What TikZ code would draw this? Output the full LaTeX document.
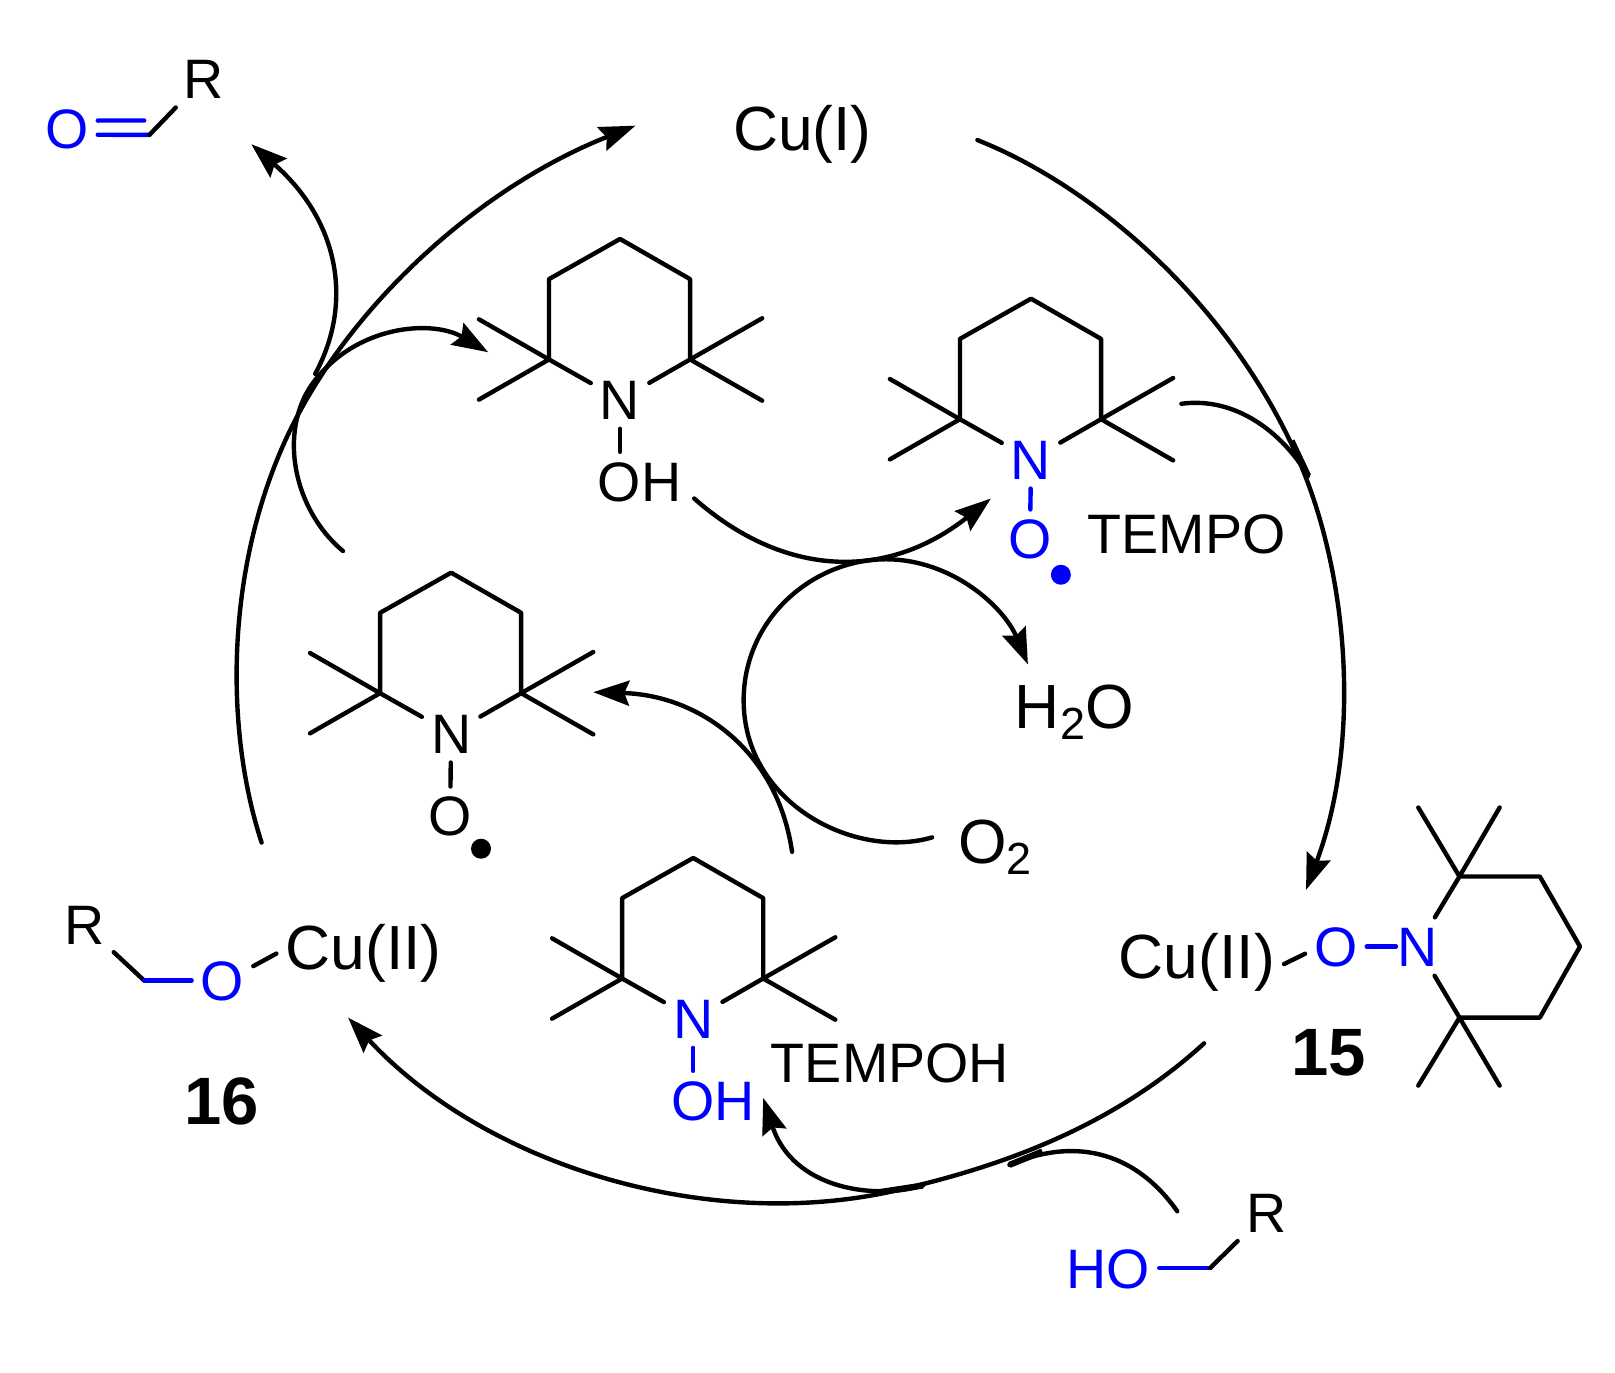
\documentclass[tikz,border=0pt]{standalone}
\usepackage{fontspec}
\setmainfont{Liberation Sans}
\usetikzlibrary{arrows.meta}
\definecolor{chemblue}{RGB}{0,0,255}
\tikzset{
  atom/.style={inner sep=0pt,outer sep=4.6pt,anchor=center,text height=20pt,text depth=0pt,font=\fontsize{27.8}{30}\selectfont},
  bigatom/.style={atom,text height=22pt,font=\fontsize{31.2}{33}\selectfont},
  cmpd/.style={atom,text height=24pt,font=\fontsize{33.5}{35}\selectfont\bfseries},
  bond/.style={line width=2.2pt,line cap=round,line join=round,draw=black},
  bluebond/.style={bond,draw=chemblue},
  curve/.style={line width=2.2pt,line cap=round,draw=black},
  tail/.style={line width=3.1pt,line cap=butt,draw=black},
  rxn/.style={curve,-{Stealth[length=18pt,width=12.5pt,inset=2.5pt]}},
  radical/.style={circle,inner sep=0pt,minimum size=10pt,fill=#1},
}
\newcommand{\tmpring}[4]{%
  \begin{scope}[shift={(#2,#3)}]
    \coordinate (#1a) at (0,0);
    \coordinate (#1b) at (68,39);
    \coordinate (#1c) at (68,117);
    \coordinate (#1f) at (-69,39);
    \coordinate (#1e) at (-69,117);
    \coordinate (#1m1) at (-137,78);
    \coordinate (#1m2) at (-137,156);
    \coordinate (#1m3) at (138,77);
    \coordinate (#1m4) at (138,157);
    \node[atom,text=#4] (#1N) at (0,156) {N};
  \end{scope}
  \draw[bond] (#1e) -- (#1f) -- (#1a) -- (#1b) -- (#1c);
  \draw[bond] (#1m1) -- (#1e) -- (#1m2);
  \draw[bond] (#1m3) -- (#1c) -- (#1m4);
  \draw[bond] (#1e) -- (#1N);
  \draw[bond] (#1c) -- (#1N);
}
\begin{document}
\begin{tikzpicture}[x=0.515pt,y=-0.515pt]
\useasboundingbox (0,0) rectangle (1568,1333);

% aldehyde
\node[atom,text=chemblue] (aldO) at (65,125) {O};
\node[atom] (aldR) at (198,76) {R};
\coordinate (aldCu) at (140,117);
\coordinate (aldCl) at (145,131);
\draw[bluebond] ([yshift=4.1pt]aldO.east) -- (aldCu);
\draw[bluebond] ([yshift=-3pt]aldO.east) -- (aldCl);
\draw[bond] (aldCl) -- (aldR);

% Cu(I)
\node[bigatom] (cuone) at (779,125) {Cu(I)};

% ring A: TEMPO-H top
\tmpring{A}{602}{232}{black}
\node[atom] (AOH) at (621,467) {OH};
\draw[bond] (AN.south) -- (AN.south |- AOH.north);

% ring B: TEMPO
\tmpring{B}{1001}{290}{chemblue}
\node[atom,text=chemblue] (BO) at (1000,523) {O};
\draw[bluebond] (BN) -- (BO);
\node[radical=chemblue] (Bdot) at (1030,558) {};
\node[atom] (tempo) at (1152,518) {TEMPO};

% ring C: radical
\tmpring{C}{438}{556}{black}
\node[atom] (CO) at (437,792) {O};
\draw[bond] (CN) -- (CO);
\node[radical=black] (Cdot) at (467,824) {};

% ring D: TEMPOH
\tmpring{D}{673}{833}{chemblue}
\node[atom,text=chemblue] (DOH) at (692,1068) {OH};
\draw[bluebond] (DN.south) -- (DN.south |- DOH.north);
\node[atom] (tempoh) at (864,1032) {TEMPOH};

% water, oxygen
\node[bigatom] (water) at (1043,686) {H\raisebox{-5.6pt}{\fontsize{22.5}{22}\selectfont 2}O};
\node[bigatom] (oxygen) at (966,817) {O\raisebox{-5.6pt}{\fontsize{22.5}{22}\selectfont 2}};

% complex 15
\node[bigatom] (cutwoR) at (1162,929) {Cu(II)};
\node[atom,text=chemblue] (xO) at (1297,919) {O};
\node[atom,text=chemblue] (xN) at (1376,919) {N};
\coordinate (xc1) at (1417,851);
\coordinate (xc2) at (1495,851);
\coordinate (xc3) at (1534,919);
\coordinate (xc4) at (1495,988);
\coordinate (xc5) at (1417,988);
\coordinate (xm1) at (1377,784);
\coordinate (xm2) at (1456,784);
\coordinate (xm3) at (1377,1054);
\coordinate (xm4) at (1456,1054);
\draw[bond] (xN) -- (xc1) -- (xc2) -- (xc3) -- (xc4) -- (xc5) -- (xN);
\draw[bond] (xm1) -- (xc1) -- (xm2);
\draw[bond] (xm3) -- (xc5) -- (xm4);
\draw[bluebond,shorten >=-4pt] (xO) -- (xN);
\draw[bond] ([yshift=-3.6pt]cutwoR.east) -- ([yshift=-3.6pt]xO.west);
\node[cmpd] (fifteen) at (1290,1021) {15};

% complex 16
\node[atom] (yR) at (82,898) {R};
\coordinate (yC) at (140,952);
\node[atom,text=chemblue] (yO) at (216,952) {O};
\node[bigatom] (cutwoL) at (353,920) {Cu(II)};
\draw[bond] (yR) -- (yC);
\draw[bluebond] (yC) -- (yO);
\draw[bond] ([yshift=7.2pt]yO.east) -- ([yshift=-3pt]cutwoL.west);
\node[cmpd] (sixteen) at (215,1068) {16};

% alcohol
\node[atom,text=chemblue] (hoO) at (1076,1232) {HO};
\node[atom] (hoR) at (1230,1177) {R};
\coordinate (hoC) at (1175,1231);
\draw[bluebond] (hoO.east |- hoC) -- (hoC);
\draw[bond] (hoC) -- (hoR);

% curve end points
\coordinate (lA) at (254,818);
\coordinate (lM) at (283,415);
\coordinate (lB) at (617,122);
\coordinate (rA) at (949,136);
\coordinate (rM) at (1258,440);
\coordinate (rB) at (1268,864);
\coordinate (jA) at (1147,392);
\coordinate (jB) at (1270,462);
\coordinate (jT) at (1254,428);
\coordinate (bA) at (1169,1013);
\coordinate (bM) at (860,1158);
\coordinate (bB) at (338,988);
\coordinate (hA) at (1143,1176);
\coordinate (hB) at (980,1131);
\coordinate (hT) at (1012,1118);
\coordinate (dA) at (896,1151);
\coordinate (dT) at (850,1158);
\coordinate (dB) at (741,1066);
\coordinate (eA) at (333,535);
\coordinate (eM) at (303,373);
\coordinate (eB) at (474,342);
\coordinate (uA) at (306,363);
\coordinate (uB) at (244,140);
\coordinate (oA) at (905,813);
\coordinate (oM) at (722,680);
\coordinate (oN) at (860,543);
\coordinate (oB) at (998,645);
\coordinate (tA) at (769,827);
\coordinate (tB) at (576,672);
\coordinate (qA) at (674,484);
\coordinate (qB) at (962,484);

% main cycle
\draw[rxn] (lA) .. controls (217,705) and (219,545) .. (lM) .. controls (345,290) and (470,180) .. (lB);
\draw[rxn] (rA) .. controls (1060,180) and (1190,290) .. (rM) .. controls (1310,555) and (1322,720) .. (rB);
\draw[curve] (jA) .. controls (1200,385) and (1245,420) .. (jB);
\draw[tail] (jT) -- (jB);
\draw[rxn] (bA) .. controls (1090,1085) and (990,1130) .. (bM) .. controls (680,1195) and (470,1130) .. (bB);
\draw[curve] (hA) .. controls (1100,1115) and (1040,1105) .. (hB);
\draw[tail] (hT) -- (hB);
\draw[rxn] (dA) .. controls (850,1165) and (770,1155) .. (dB);
\draw[tail] (dT) -- (dA);
\draw[rxn] (eA) .. controls (285,495) and (270,420) .. (eM) .. controls (345,315) and (420,310) .. (eB);
\draw[rxn] (uA) .. controls (343,295) and (330,215) .. (uB);
% inner cycle
\draw[rxn] (oA) .. controls (830,835) and (722,780) .. (oM) .. controls (722,600) and (790,543) .. (oN) .. controls (925,543) and (975,590) .. (oB);
\draw[rxn] (tA) .. controls (755,730) and (680,675) .. (tB);
\draw[rxn] (qA) .. controls (760,560) and (860,565) .. (qB);
\end{tikzpicture}
\end{document}
